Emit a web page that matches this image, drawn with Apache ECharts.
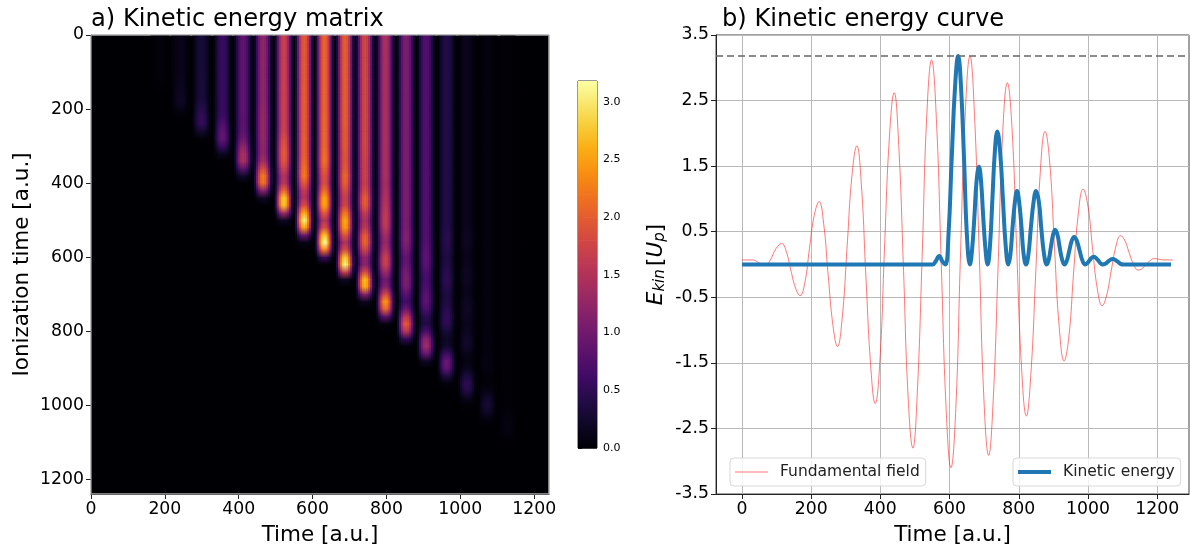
<!DOCTYPE html>
<html><head><meta charset="utf-8">
<style>html,body{margin:0;padding:0;background:#fff}#c{width:1190px;height:544px}</style>
<script src="https://cdn.jsdelivr.net/npm/echarts@6/dist/echarts.min.js"></script>
</head><body><div id="c"></div>
<script>
// ---- panel a: ridge peak times (a.u.) and peak energy per ionization-time row (every 20 a.u. from 0)
const ridgeTimes = [186,242,299,356,412,466,522,577,632,688,742,797,853,907,963,1018,1073,1128];
const ridge186 = [.04,.04,.04,.04,.04,.04,.03,.01,0];
const ridge242 = [.13,.13,.13,.13,.13,.13,.14,.16,.18,.2,.1,.01,0];
const ridge299 = [.32,.32,.32,.32,.32,.32,.33,.33,.33,.36,.45,.54,.54,.26,.02,0];
const ridge356 = [.58,.58,.58,.58,.58,.58,.58,.58,.58,.57,.57,.62,.75,.87,.9,.62,.18,0];
const ridge412 = [.88,.88,.88,.88,.88,.88,.88,.88,.88,.88,.88,.85,.85,.88,1,1.25,1.45,1.48,.9,.25,0];
const ridge466 = [1.25,1.25,1.25,1.25,1.25,1.25,1.25,1.25,1.25,1.25,1.28,1.3,1.3,1.3,1.3,1.25,1.25,1.4,1.85,2.25,2.2,1.2,.2,0];
const ridge522 = [1.7,1.7,1.7,1.7,1.7,1.7,1.7,1.72,1.72,1.72,1.72,1.72,1.7,1.75,1.85,1.95,2,1.95,1.75,1.5,1.55,2.1,2.8,2.75,1.4,.2,0];
const ridge577 = [2,2,2,2,2,2,2,2.02,2.03,2.03,2.03,2.03,2.03,2.03,2.05,2.05,2.05,2.1,2.2,2.25,2,1.65,1.55,1.9,2.6,3.1,2.55,1,.1,0];
const ridge632 = [2.08,2.08,2.08,2.08,2.08,2.08,2.08,2.08,2.08,2.08,2.08,2.1,2.1,2.1,2.1,2.1,2.15,2.18,2.05,1.9,1.85,2.15,2.55,2.55,2,1.55,1.85,2.75,3.18,2.3,.6,0];
const ridge688 = [2.03,2.03,2.03,2.03,2.03,2.03,2.03,2.03,2.03,2.03,2.03,2.03,2.03,2,2,2,1.95,1.95,2,2.1,2.05,1.85,1.7,1.8,2.25,2.6,2.5,1.95,1.5,1.85,2.8,3.1,1.75,.2,0];
const ridge742 = [1.78,1.78,1.78,1.78,1.78,1.78,1.78,1.78,1.78,1.78,1.78,1.78,1.78,1.78,1.78,1.78,1.75,1.72,1.72,1.72,1.7,1.82,2.02,2,1.65,1.45,1.6,2,2.1,1.75,1.25,1.2,1.85,2.7,2.6,1.2,.15,0];
const ridge797 = [1.45,1.45,1.45,1.45,1.45,1.45,1.45,1.45,1.45,1.45,1.45,1.45,1.45,1.45,1.45,1.45,1.45,1.45,1.45,1.45,1.42,1.45,1.5,1.55,1.62,1.66,1.6,1.4,1.3,1.45,1.72,1.7,1.35,1,1.15,1.85,2.48,2.1,.85,.08,0];
const ridge853 = [1.1,1.1,1.1,1.1,1.1,1.1,1.1,1.1,1.1,1.1,1.1,1.1,1.1,1.1,1.1,1.1,1.1,1.1,1.1,1.1,1.1,1.1,1.1,1.1,1.1,1.08,1.1,1.15,1.15,1.02,.9,.92,1.05,1.12,1.05,.82,.65,.95,1.6,2,1.6,.55,.03,0];
const ridge907 = [.76,.76,.76,.76,.76,.76,.76,.76,.76,.76,.76,.76,.76,.76,.76,.76,.76,.76,.76,.76,.76,.76,.76,.76,.76,.76,.76,.76,.78,.82,.85,.82,.72,.68,.72,.82,.85,.72,.48,.4,.7,1.2,1.38,.95,.22,0];
const ridge963 = [.42,.42,.42,.42,.42,.42,.42,.42,.42,.42,.42,.42,.42,.42,.42,.42,.42,.42,.42,.42,.42,.42,.42,.42,.42,.42,.42,.46,.47,.42,.38,.4,.47,.5,.45,.38,.38,.45,.52,.5,.32,.2,.25,.6,.95,.9,.4,.05,0];
const ridge1018 = [.15,.15,.15,.15,.15,.15,.15,.15,.15,.15,.15,.15,.15,.15,.15,.15,.15,.15,.15,.15,.15,.15,.15,.15,.15,.15,.15,.18,.18,.15,.13,.15,.18,.18,.15,.14,.18,.2,.18,.15,.17,.23,.22,.13,.08,.15,.35,.5,.42,.15,.02,0];
const ridge1073 = [.06,.06,.06,.06,.06,.06,.06,.06,.06,.06,.06,.06,.06,.06,.06,.06,.06,.06,.06,.06,.06,.06,.06,.06,.06,.06,.06,.06,.06,.06,.06,.06,.06,.06,.06,.06,.06,.06,.06,.06,.06,.07,.06,.07,.08,.07,.04,.03,.1,.24,.3,.2,.05,0];
const ridge1128 = [.025,.025,.025,.025,.025,.025,.025,.025,.025,.025,.025,.025,.025,.025,.025,.025,.025,.025,.025,.025,.025,.025,.025,.025,.025,.025,.025,.025,.025,.025,.025,.025,.025,.025,.025,.025,.025,.025,.025,.025,.025,.025,.025,.025,.025,.025,.025,.025,.025,.025,.025,.04,.07,.08,.05,.01,0];
const ridgeValues = [ridge186,ridge242,ridge299,ridge356,ridge412,ridge466,ridge522,ridge577,ridge632,ridge688,ridge742,ridge797,ridge853,ridge907,ridge963,ridge1018,ridge1073,ridge1128];
const rowStep = 20;
// cross-section of a ridge: time offset from the ridge peak and fraction of the peak
const crossOffsets = [-27.5,-22,-16.5,-11,-5.5,0,5.5,11,16.5,22];
const crossShape = [0,.15,.48,.77,.95,1,.95,.77,.48,.15];
const crossWidth = 5.5;
const colorLevels = [0,.2,.4,.6,.8,1,1.2,1.4,1.6,1.8,2,2.2,2.4,2.6,2.8,3,3.18];
const inferno = ['#000004','#160b39','#420a68','#6a176e','#932667','#bc3754','#dd513a','#f37819','#fca50a','#f6d746','#fcffa4'];
const colorMax = 3.18;
const matrixExtent = 1240;
const timeTicks = [0,200,400,600,800,1000,1200];
const colorTicks = [0,.5,1,1.5,2,2.5,3];
const energyTicks = [-3.5,-2.5,-1.5,-.5,.5,1.5,2.5,3.5];

// ---- panel b
const fieldTimes = [0,30,48,66,80,98,115,128,141,155,168,182,195,209,223,236,249,263,276,290,304,318,332,345,358,372,385,399,412,426,440,453,467,480,494,507,521,534,548,562,576,590,604,618,631,645,659,672,686,699,713,726,740,753,767,781,794,808,822,835,849,862,876,890,903,917,931,945,958,972,986,1000,1013,1027,1041,1054,1067,1081,1094,1107,1119,1132,1145,1157,1168,1180,1191,1220,1245];
const fieldValues = [.07,.07,.03,-.01,.05,.24,.32,.2,-.08,-.36,-.475,-.27,.24,.75,.96,.63,-.15,-.93,-1.25,-.8,.28,1.36,1.81,1.23,-.16,-1.54,-2.12,-1.44,.25,1.93,2.62,1.83,-.09,-2,-2.8,-1.93,.16,2.25,3.12,2.21,.01,-2.19,-3.1,-2.2,.04,2.26,3.18,2.29,.13,-2.02,-2.91,-2.08,-.07,1.94,2.77,2.03,.23,-1.57,-2.31,-1.67,-.14,1.39,2.03,1.52,.28,-.96,-1.47,-1.09,-.16,.77,1.15,.89,.26,-.37,-.63,-.47,-.1,.28,.44,.36,.18,0,-.085,-.06,0,.06,.09,.07,.07];
const kineticTimes = [0,551,560,570,579,588,597,606,616,625,633,642,650,659,665,672,678,685,691,697,704,710,717,724,731,738,746,754,762,770,776,782,789,795,801,808,814,821,828,835,843,850,858,865,873,881,887,893,899,905,912,918,925,932,939,946,953,960,968,976,984,992,998,1004,1010,1016,1023,1030,1036,1043,1050,1057,1064,1071,1079,1087,1094,1102,1240];
const kineticValues = [0,0,.05,.13,.05,0,.46,1.59,2.72,3.18,2.72,1.59,.46,0,.22,.75,1.27,1.49,1.27,.75,.22,0,.3,1.02,1.73,2.03,1.73,1.02,.3,0,.16,.56,.96,1.12,.96,.56,.16,0,.16,.56,.96,1.12,.96,.56,.16,0,.08,.27,.45,.53,.45,.27,.08,0,.06,.21,.36,.42,.36,.21,.06,0,.02,.06,.1,.12,.1,.06,.02,0,.01,.04,.07,.085,.07,.04,.01,0,0];
const maxEnergy = 3.18;

function hex(c){return [1,3,5].map(i=>parseInt(c.substr(i,2),16));}
function colorOf(v){
  const f=Math.max(0,Math.min(1,v/colorMax))*(inferno.length-1), i=Math.min(inferno.length-2,Math.floor(f)), u=f-i;
  const a=hex(inferno[i]), b=hex(inferno[i+1]);
  return 'rgb('+a.map((x,k)=>Math.round(x+(b[k]-x)*u)).join(',')+')';
}
function vGrad(top,bottom){
  return {type:'linear',x:0,y:0,x2:0,y2:1,colorStops:[{offset:0,color:colorOf(top)},{offset:1,color:colorOf(bottom)}]};
}
const cells=[];
ridgeTimes.forEach((t,s)=>{
  const vals=ridgeValues[s];
  for(let j=0;j<vals.length-1;j++){
    crossOffsets.forEach((o,k)=>{
      const a=vals[j]*crossShape[k], b=vals[j+1]*crossShape[k];
      if(a>.004||b>.004) cells.push([t+o,j*rowStep,a,b]);
    });
  }
});
const barCells=[];
for(let i=0;i<colorLevels.length-1;i++) barCells.push([colorLevels[i],colorLevels[i+1]]);

const font='DejaVu Sans', ink='#000';
const plain=v=>String(v);
function baseAxis(extra){
  return Object.assign({
    type:'value',
    axisLine:{show:true,onZero:false,lineStyle:{color:'#222',width:1}},
    axisTick:{show:true,length:5,lineStyle:{color:'#222',width:1}},
    axisLabel:{color:ink,fontFamily:font,fontSize:17.3,margin:7},
    splitLine:{show:false},
    nameLocation:'middle',
    nameTextStyle:{color:ink,fontFamily:font,fontSize:21.5}
  },extra);
}
function ticked(axis,values,fmt,nudge){
  axis.axisTick=Object.assign({},axis.axisTick,{customValues:values});
  axis.axisLabel=Object.assign({},axis.axisLabel,{customValues:values,formatter:fmt||plain});
  if(nudge) axis.axisLabel.padding=[nudge,0,0,0];
  return axis;
}
const gridLine={show:true,lineStyle:{color:'#b9b9b9',width:1}};
const legendCommon={orient:'horizontal',top:458,icon:'rect',backgroundColor:'rgba(255,255,255,.8)',borderColor:'#d8d8d8',borderWidth:1,borderRadius:4,padding:[6,6,6,5],itemWidth:33,textStyle:{color:'#222',fontFamily:font,fontSize:15.5,padding:[0,0,0,7]}};

const option={
  animation:false,
  backgroundColor:'#fff',
  title:[
    {text:'a) Kinetic energy matrix',left:91,top:8,padding:0,textStyle:{color:ink,fontFamily:font,fontSize:24.2,fontWeight:'normal'}},
    {text:'b) Kinetic energy curve',left:722,top:8,padding:0,textStyle:{color:ink,fontFamily:font,fontSize:24.2,fontWeight:'normal'}}
  ],
  grid:[
    {outerBoundsMode:'none',left:91,top:35,width:458,height:459,show:true,backgroundColor:'#000004',borderColor:'#aaa',borderWidth:1},
    {outerBoundsMode:'none',left:578,top:81,width:19,height:367,show:true,backgroundColor:'#fff',borderColor:'#333',borderWidth:1},
    {outerBoundsMode:'none',left:716,top:35,width:473,height:459,show:true,backgroundColor:'#fff',borderColor:'#444',borderWidth:1}
  ],
  xAxis:[
    ticked(baseAxis({gridIndex:0,min:0,max:matrixExtent,name:'Time [a.u.]',nameGap:30}),timeTicks),
    {type:'value',gridIndex:1,min:0,max:1,show:false},
    ticked(baseAxis({gridIndex:2,min:-75,max:1292,name:'Time [a.u.]',nameGap:30,splitLine:gridLine}),timeTicks)
  ],
  yAxis:[
    ticked(baseAxis({gridIndex:0,min:0,max:matrixExtent,inverse:true,name:'Ionization time [a.u.]',nameGap:58}),timeTicks,null,3),
    ticked(baseAxis({gridIndex:1,min:0,max:colorMax,position:'right',axisLabel:{color:ink,fontFamily:font,fontSize:11,margin:6},axisTick:{show:true,length:4,lineStyle:{color:'#222'}},axisLine:{show:false}}),colorTicks,v=>Number(v).toFixed(1)),
    ticked(baseAxis({gridIndex:2,min:-3.5,max:3.5,splitLine:gridLine,nameGap:48,
      name:'{i|E}{s|kin} {t|[}{i|U}{s|p}{t|]}',
      nameTextStyle:{rich:{
        i:{fontFamily:font,fontStyle:'italic',fontSize:21.5,color:ink,verticalAlign:'middle'},
        t:{fontFamily:font,fontSize:21.5,color:ink,verticalAlign:'middle'},
        s:{fontFamily:font,fontStyle:'italic',fontSize:15,color:ink,verticalAlign:'bottom',lineHeight:24}
      }}
    }),energyTicks,v=>Number(v).toFixed(1),3)
  ],
  legend:[
    Object.assign({},legendCommon,{left:730,itemHeight:1,data:['Fundamental field']}),
    Object.assign({},legendCommon,{left:1013,itemHeight:4,data:['Kinetic energy']})
  ],
  series:[
    {type:'custom',name:'matrix',xAxisIndex:0,yAxisIndex:0,progressive:0,silent:true,clip:true,data:cells,
     encode:{x:0,y:1},
     renderItem(params,api){
       const t=api.value(0), r=api.value(1);
       const p0=api.coord([t-crossWidth/2,r]), p1=api.coord([t+crossWidth/2,r+rowStep]);
       return {type:'rect',shape:{x:p0[0],y:p0[1],width:p1[0]-p0[0]+.6,height:p1[1]-p0[1]+.6},
         style:{fill:vGrad(api.value(2),api.value(3))}};
     }},
    {type:'custom',name:'matrixFrame',xAxisIndex:0,yAxisIndex:0,silent:true,clip:false,z:5,data:[[0,matrixExtent]],
     encode:{x:[0,1],y:[0,1]},
     renderItem(params,api){
       const p0=api.coord([api.value(0),api.value(0)]), p1=api.coord([api.value(1),api.value(1)]);
       return {type:'rect',shape:{x:p0[0],y:p0[1],width:p1[0]-p0[0],height:p1[1]-p0[1]},
         style:{fill:'none',stroke:'#aaa',lineWidth:1}};
     }},
    {type:'custom',name:'colorbar',xAxisIndex:1,yAxisIndex:1,progressive:0,silent:true,data:barCells,
     encode:{y:[0,1]},
     renderItem(params,api){
       const lo=api.value(0), hi=api.value(1);
       const p0=api.coord([0,hi]), p1=api.coord([1,lo]);
       return {type:'rect',shape:{x:p0[0],y:p0[1],width:p1[0]-p0[0],height:p1[1]-p0[1]+.6},
         style:{fill:vGrad(hi,lo)}};
     }},
    {type:'line',name:'Fundamental field',xAxisIndex:2,yAxisIndex:2,symbol:'none',smooth:.45,z:3,
     color:'rgba(255,30,30,.6)',lineStyle:{color:'rgba(255,30,30,.6)',width:1},
     data:fieldTimes.map((t,i)=>[t,fieldValues[i]])},
    {type:'line',name:'Kinetic energy',xAxisIndex:2,yAxisIndex:2,symbol:'none',smooth:.45,z:4,
     color:'#1f77b4',lineStyle:{color:'#1f77b4',width:4},
     markLine:{silent:true,symbol:'none',label:{show:false},lineStyle:{color:'#666',type:[7,4],width:1.6},data:[{yAxis:maxEnergy}]},
     data:kineticTimes.map((t,i)=>[t,kineticValues[i]])}
  ]
};
echarts.init(document.getElementById('c'),null,{renderer:'canvas'}).setOption(option);
</script></body></html>
